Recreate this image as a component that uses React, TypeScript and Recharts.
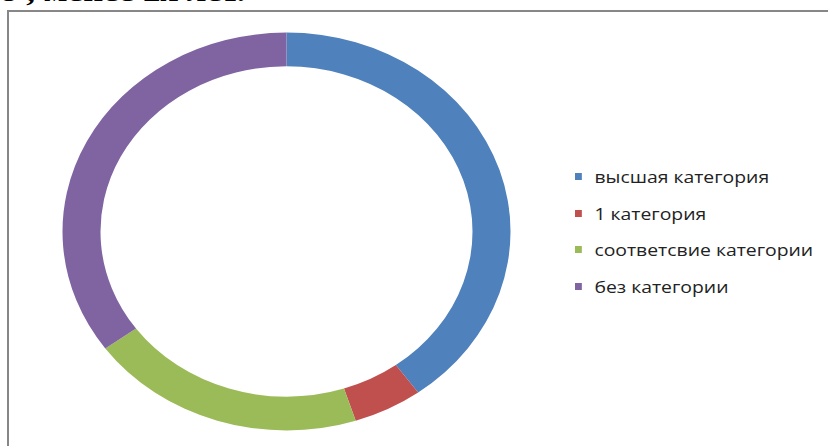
import React from "react";
import { PieChart, Pie, Cell, Legend, Sector } from "recharts";

const categories = ["высшая категория", "1 категория", "соответсвие категории", "без категории"];
const values = [40, 5, 20, 35];
const colors = ["#4F81BD", "#C0504D", "#9BBB59", "#8064A2"];
const headerText = "о , менее 2х лет.";

const data = categories.map((name, i) => ({ name, value: values[i] }));

const SY = 0.888;

const EllipseSector = (props: any) => {
  const { cx, cy } = props;
  return (
    <g transform={`translate(${cx} ${cy}) scale(1 ${SY}) translate(${-cx} ${-cy})`}>
      <Sector
        cx={props.cx}
        cy={props.cy}
        innerRadius={props.innerRadius}
        outerRadius={props.outerRadius}
        startAngle={props.startAngle}
        endAngle={props.endAngle}
        fill={props.fill}
        stroke="none"
      />
    </g>
  );
};

const LegendContent = () => (
  <div
    style={{
      fontFamily: "'Open Sans', sans-serif",
      fontSize: 17,
      color: "#222",
      transform: "scaleX(1.14)",
      transformOrigin: "0 0",
    }}
  >
    {categories.map((c, i) => (
      <div key={c} style={{ display: "flex", alignItems: "center", height: 36.7 }}>
        <span style={{ display: "inline-block", width: 6, height: 7, background: colors[i], marginRight: 11 }} />
        <span style={{ whiteSpace: "nowrap" }}>{c}</span>
      </div>
    ))}
  </div>
);

export default function App() {
  return (
    <div style={{ position: "absolute", left: 0, top: 0, width: 828, height: 446, overflow: "hidden", background: "#fff" }}>
      <div
        style={{
          position: "absolute",
          left: 0,
          top: -22,
          fontFamily: "'Liberation Serif', serif",
          fontWeight: "bold",
          fontSize: 28,
          lineHeight: "28px",
          whiteSpace: "nowrap",
          color: "#000",
          transform: "scaleX(1.25)",
          transformOrigin: "0 0",
        }}
      >
        {headerText}
      </div>
      <div
        style={{
          position: "absolute",
          left: 7,
          top: 10,
          width: 900,
          height: 600,
          border: "2px solid #878787",
        }}
      />
      <div style={{ position: "absolute", left: 0, top: 0 }}>
        <PieChart width={828} height={446} margin={{ top: 0, right: 0, bottom: 0, left: 0 }}>
          <Pie
            data={data}
            dataKey="value"
            nameKey="name"
            cx={286.5}
            cy={231.5}
            innerRadius={186}
            outerRadius={224}
            startAngle={90}
            endAngle={-270}
            stroke="none"
            isAnimationActive={false}
            shape={EllipseSector}
            inactiveShape={EllipseSector}
            activeShape={EllipseSector}
          >
            {data.map((d, i) => (
              <Cell key={d.name} fill={colors[i]} />
            ))}
          </Pie>
          <Legend
            layout="vertical"
            align="right"
            verticalAlign="middle"
            content={LegendContent}
            wrapperStyle={{ position: "absolute", left: 575, top: 158, width: 260, right: "auto", bottom: "auto" }}
          />
        </PieChart>
      </div>
    </div>
  );
}
